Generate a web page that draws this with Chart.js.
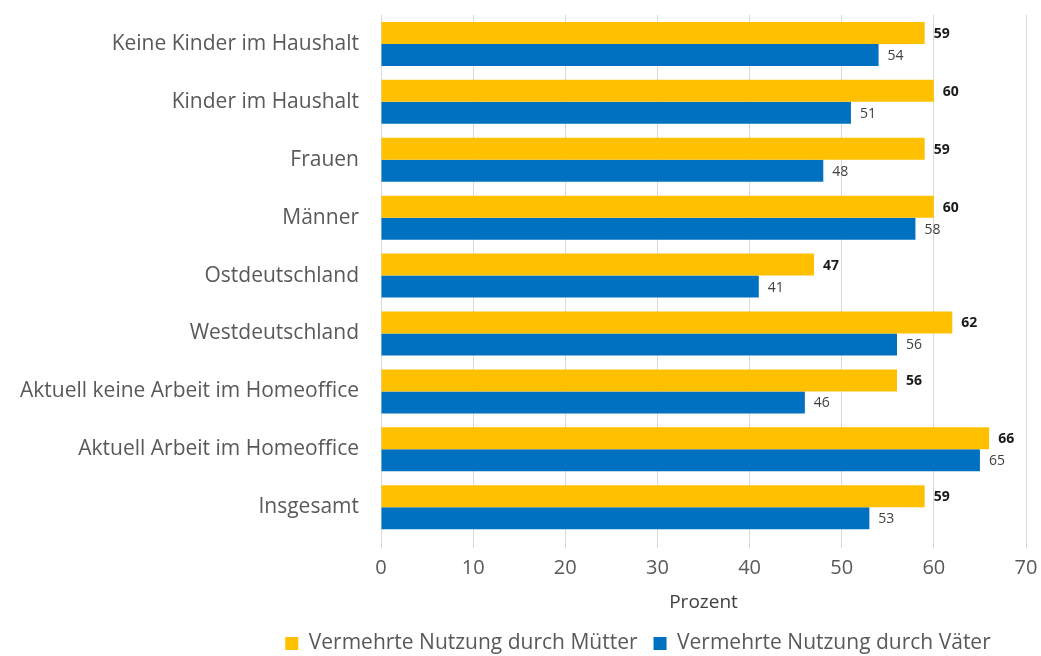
<!DOCTYPE html>
<html lang="de">
<head>
<meta charset="utf-8">
<title>Vermehrte Nutzung</title>
<script src="https://cdn.jsdelivr.net/npm/chart.js@4/dist/chart.umd.min.js"></script>
<style>
  html, body { margin: 0; padding: 0; background: #fff; }
  #wrap { width: 1041px; height: 656px; position: relative; }
</style>
</head>
<body>
<div id="wrap"><canvas id="chart"></canvas></div>
<script>
const categories = [
  "Keine Kinder im Haushalt",
  "Kinder im Haushalt",
  "Frauen",
  "Männer",
  "Ostdeutschland",
  "Westdeutschland",
  "Aktuell keine Arbeit im Homeoffice",
  "Aktuell Arbeit im Homeoffice",
  "Insgesamt"
];
const muetter = [59, 60, 59, 60, 47, 62, 56, 66, 59];
const vaeter  = [54, 51, 48, 58, 41, 56, 46, 65, 53];
const xTicks  = [0, 10, 20, 30, 40, 50, 60, 70];

const FONT = "'Open Sans', sans-serif";
const GREY = "#595959";

// value labels right of each bar end
const barValues = {
  id: "barValues",
  afterDatasetsDraw(chart){
    const ctx = chart.ctx;
    ctx.save();
    ctx.textBaseline = "middle";
    ctx.textAlign = "left";
    chart.data.datasets.forEach((ds, i)=>{
      const meta = chart.getDatasetMeta(i);
      ctx.font = (i === 0 ? "bold " : "") + "14px " + FONT;
      ctx.fillStyle = i === 0 ? "#1a1a1a" : "#404040";
      meta.data.forEach((bar, j)=>{
        ctx.fillText(String(ds.data[j]), bar.x + 9, bar.y + 1);
      });
    });
    ctx.restore();
  }
};

// push the legend row a bit to the right
const legendShift = {
  id: "legendShift",
  afterLayout(chart){
    const lg = chart.legend;
    if (!lg) return;
    lg.left += 125;
    lg.right += 125;
  }
};

new Chart(document.getElementById("chart"), {
  type: "bar",
  data: {
    labels: categories,
    datasets: [
      { label: "Vermehrte Nutzung durch Mütter", data: muetter, backgroundColor: "#FFC000",
        categoryPercentage: 0.76, barPercentage: 1.0 },
      { label: "Vermehrte Nutzung durch Väter", data: vaeter, backgroundColor: "#0070C0",
        categoryPercentage: 0.76, barPercentage: 1.0 }
    ]
  },
  options: {
    indexAxis: "y",
    responsive: true,
    maintainAspectRatio: false,
    animation: false,
    layout: { padding: { top: 15, right: 15, left: 0, bottom: -8 } },
    plugins: {
      tooltip: { enabled: false },
      legend: {
        position: "bottom",
        labels: {
          color: GREY,
          font: { family: FONT, size: 21 },
          boxWidth: 13, boxHeight: 13,
          padding: 16
        }
      }
    },
    scales: {
      x: {
        min: 0, max: 70,
        afterBuildTicks(scale){ scale.ticks = xTicks.map(v=>({ value: v })); },
        afterFit(scale){ scale.paddingRight = 0; scale.paddingLeft = 0; },
        grid: { color: "#d9d9d9", drawTicks: true, tickLength: 12 },
        border: { display: false },
        ticks: { color: GREY, font: { family: FONT, size: 20 }, padding: 8 },
        title: { display: true, text: "Prozent", color: "#404040",
                 font: { family: FONT, size: 19 }, padding: { top: 3, bottom: 3 } }
      },
      y: {
        afterFit(scale){
          scale.width = 381;
          scale.paddingTop = 0;
          scale.paddingBottom = 0;
        },
        grid: { display: false, drawTicks: false },
        border: { display: true, color: "#d9d9d9" },
        ticks: { color: GREY, font: { family: FONT, size: 21 }, padding: 22 }
      }
    }
  },
  plugins: [barValues, legendShift]
});
</script>
</body>
</html>
